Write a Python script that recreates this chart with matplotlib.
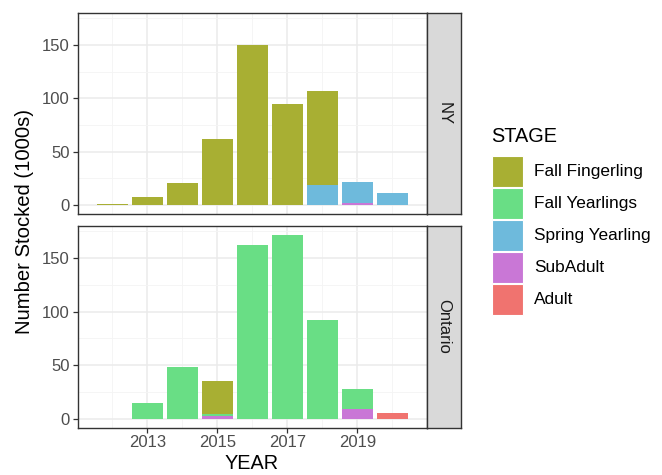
import matplotlib
matplotlib.use("Agg")
import matplotlib.pyplot as plt
from matplotlib.patches import Rectangle
import numpy as np

plt.rcParams['font.family'] = ['Liberation Sans', 'DejaVu Sans']

years = [2012, 2013, 2014, 2015, 2016, 2017, 2018, 2019, 2020]
stages = ["Fall Fingerling", "Fall Yearlings", "Spring Yearling", "SubAdult", "Adult"]
colors = ["#A8AF33", "#69DE85", "#6EBADC", "#C977D6", "#F0736F"]
regions = ["NY", "Ontario"]

ny_fall_fingerling = [1.3, 7.8, 20.7, 61.8, 149.5, 94.2, 87.9, 0, 0]
ny_fall_yearlings = [0, 0, 0, 0, 0, 0, 0, 0, 0]
ny_spring_yearling = [0, 0, 0, 0, 0, 0, 19.2, 20.3, 11.4]
ny_subadult = [0, 0, 0, 0, 0, 0, 0, 1.6, 0]
ny_adult = [0, 0, 0, 0, 0, 0, 0, 0, 0]

on_fall_fingerling = [0, 0, 0, 31.0, 0, 0, 0, 0, 0]
on_fall_yearlings = [0, 14.3, 48.2, 2.1, 162.5, 171.5, 92.3, 18.1, 0]
on_spring_yearling = [0, 0, 0, 0, 0, 0, 0, 0, 0]
on_subadult = [0, 0, 0, 2.0, 0, 0, 0, 9.3, 0]
on_adult = [0, 0, 0, 0, 0, 0, 0, 0, 5.6]

x_ticks = [2013, 2015, 2017, 2019]
y_ticks = [0, 50, 100, 150]

data = {
    "NY": [ny_fall_fingerling, ny_fall_yearlings, ny_spring_yearling, ny_subadult, ny_adult],
    "Ontario": [on_fall_fingerling, on_fall_yearlings, on_spring_yearling, on_subadult, on_adult],
}

W, H = 662, 475
fig = plt.figure(figsize=(W / 100, H / 100), dpi=100)

def fx(px):
    return px / W

def fy(py):
    return 1 - py / H

panel_left, panel_right = 77.5, 427.3
strip_right = 461.0
panels = [(12.7, 214.3), (226.0, 427.7)]

ymax_data = max(max(np.sum(np.array(data[r]), axis=0)) for r in regions)
ypad = 0.05 * ymax_data
xlim = (min(years) - 0.45 - 0.05 * (max(years) - min(years) + 0.9),
        max(years) + 0.45 + 0.05 * (max(years) - min(years) + 0.9))

for i, reg in enumerate(regions):
    top, bot = panels[i]
    ax = fig.add_axes([fx(panel_left), fy(bot), fx(panel_right) - fx(panel_left), fy(top) - fy(bot)])
    ax.set_facecolor("white")
    ax.set_xlim(*xlim)
    ax.set_ylim(-ypad, ymax_data + ypad)
    ax.set_xticks(x_ticks)
    ax.set_xticks([y for y in years if y not in x_ticks] + [2011, 2021], minor=True)
    ax.set_yticks(y_ticks)
    ax.set_yticks([25, 75, 125, 175], minor=True)
    ax.grid(True, which="major", color="#EBEBEB", linewidth=1.1, zorder=0)
    ax.grid(True, which="minor", color="#F4F4F4", linewidth=0.6, zorder=0)
    ax.set_axisbelow(True)
    series = data[reg]
    bottom = np.zeros(len(years))
    for k in range(len(stages) - 1, -1, -1):
        vals = np.array(series[k], dtype=float)
        ax.bar(years, vals, width=0.9, bottom=bottom, color=colors[k],
               edgecolor="none", zorder=2)
        bottom += vals
    for s in ax.spines.values():
        s.set_color("#333333")
        s.set_linewidth(1.0)
    ax.tick_params(axis="both", which="minor", length=0)
    ax.tick_params(axis="both", which="major", length=3.5, width=0.9, color="#333333",
                   labelcolor="#4D4D4D", labelsize=12)
    ax.tick_params(axis="y", pad=2)
    if i == 0:
        ax.tick_params(axis="x", which="major", length=0, labelbottom=False)
    else:
        ax.tick_params(axis="x", pad=2)
    sax = fig.add_axes([fx(panel_right), fy(bot), fx(strip_right) - fx(panel_right), fy(top) - fy(bot)])
    sax.set_facecolor("#D9D9D9")
    sax.set_xticks([])
    sax.set_yticks([])
    for s in sax.spines.values():
        s.set_color("#333333")
        s.set_linewidth(1.0)
    sax.text(0.5, 0.5, reg, rotation=-90, ha="center", va="center", fontsize=12,
             color="#1A1A1A", transform=sax.transAxes)

fig.text(fx(252), fy(473), "YEAR", ha="center", va="bottom", fontsize=14.3, color="black")
fig.text(fx(25), fy(221), "Number Stocked (1000s)", ha="center", va="center",
         rotation=90, fontsize=14.6, color="black")

fig.text(fx(491), fy(137), "STAGE", ha="left", va="center", fontsize=14.3, color="black")
key_top = 155.7
key_h = 32.0
for k, st in enumerate(stages):
    y0 = key_top + k * key_h
    fig.add_artist(Rectangle((fx(491.7), fy(y0 + key_h - 1)), fx(30.8), fy(y0) - fy(y0 + key_h - 1),
                             transform=fig.transFigure, facecolor=colors[k], edgecolor="white",
                             linewidth=0.8))
    fig.text(fx(534), fy(y0 + key_h / 2), st, ha="left", va="center", fontsize=12.4, color="black")

fig.savefig("out.png", dpi=100)
